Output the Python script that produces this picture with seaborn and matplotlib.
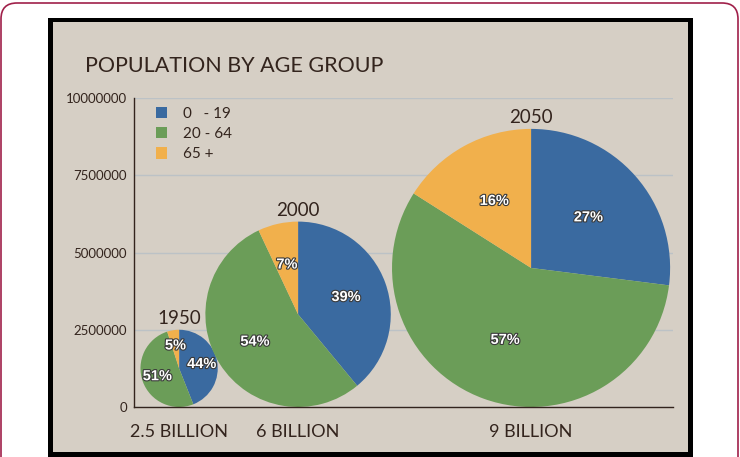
import matplotlib
matplotlib.use('Agg')
from matplotlib import pyplot as plt
from matplotlib.patches import Rectangle, FancyBboxPatch, Patch
import matplotlib.patheffects as pe
import seaborn as sns

# data
years = ['1950', '2000', '2050']
population_billion = [2.5, 6, 9]
pop_labels = ['2.5 BILLION', '6 BILLION', '9 BILLION']
age_groups = ['0   - 19', '20 - 64', '65 +']
share_young = [44, 39, 27]
share_adult = [51, 54, 57]
share_old = [5, 7, 16]
y_ticks = [0, 2500000, 5000000, 7500000, 10000000]
y_tick_labels = ['0', '2500000', '5000000', '7500000', '10000000']

sns.set_theme(style='white')
plt.rcParams['font.family'] = ['Lato', 'DejaVu Sans']
colors = sns.color_palette(['#3a6aa0', '#6b9d58', '#f1b04c'])
txt = '#33241d'
beige = '#d6cfc5'

fig = plt.figure(figsize=(7.4, 4.57), dpi=100)
fig.patch.set_facecolor('white')

# outer rounded frame and black-bordered panel (pixel coords -> inches)
px = lambda v: v / 100.0
fig.patches.append(FancyBboxPatch((px(1), px(-40)), px(737), px(494),
                                  boxstyle='round,pad=0,rounding_size=0.16',
                                  transform=fig.dpi_scale_trans, facecolor='white',
                                  edgecolor='#a0204a', lw=1.2, zorder=-3))
fig.patches.append(Rectangle((px(48), px(0)), px(645), px(457 - 18),
                             transform=fig.dpi_scale_trans, facecolor='black',
                             edgecolor='none', zorder=-2))
fig.patches.append(Rectangle((px(53), px(457 - 452)), px(635), px(452 - 22),
                             transform=fig.dpi_scale_trans, facecolor=beige,
                             edgecolor='none', zorder=-1))

ax = fig.add_axes([134 / 740, 1 - 407 / 457, 539 / 740, 309 / 457])
ax.set_facecolor('none')

scale = 500000  # pie radius per billion people, in axis units
pie_x = [1.46e6, 5.31e6, 12.85e6]
pct_dist = [0.6, 0.55, 0.55]

for i, yr in enumerate(years):
    r = population_billion[i] * scale
    cx, cy = pie_x[i], r
    vals = [share_young[i], share_adult[i], share_old[i]]
    wedges, texts, autotexts = ax.pie(
        vals, colors=colors, startangle=90, counterclock=False,
        radius=r, center=(cx, cy), frame=True,
        autopct='%d%%', pctdistance=pct_dist[i],
        wedgeprops=dict(linewidth=0))
    for t in autotexts:
        t.set_color('white')
        t.set_fontweight('bold')
        t.set_fontsize(10.5)
        t.set_family(['Liberation Sans', 'DejaVu Sans'])
        t.set_path_effects([pe.withStroke(linewidth=1.6, foreground='#3a3a3a')])
    ax.annotate(yr, (cx, cy + r), xytext=(0, 4), textcoords='offset points',
                ha='center', va='baseline', fontsize=13.5, color=txt)

ax.set_xlim(0, 10000000 * 539 / 309)
ax.set_ylim(0, 10000000)
ax.set_aspect('equal', adjustable='box')

ax.set_yticks(y_ticks)
ax.set_yticklabels(y_tick_labels, fontsize=9.5, color=txt)
ax.set_xticks(pie_x)
ax.set_xticklabels(pop_labels, fontsize=13, color=txt)
ax.tick_params(axis='both', length=0)
ax.tick_params(axis='y', pad=5)
ax.tick_params(axis='x', pad=12)

ax.grid(axis='y', color='#bcc2c6', lw=1)
ax.set_axisbelow(True)
for s in ['top', 'right']:
    ax.spines[s].set_visible(False)
for s in ['left', 'bottom']:
    ax.spines[s].set_color(txt)
    ax.spines[s].set_linewidth(1)

handles = [Patch(facecolor=c, edgecolor='none') for c in colors]
leg = ax.legend(handles, age_groups, loc='upper left', bbox_to_anchor=(0.015, 1.015),
                frameon=False, fontsize=11, labelcolor=txt,
                handlelength=0.75, handleheight=0.75, labelspacing=0.4, handletextpad=1.0)

fig.text(85 / 740, 1 - 72 / 457, 'POPULATION BY AGE GROUP', fontsize=15.5,
         color=txt, ha='left', va='baseline')

fig.savefig('out.png', dpi=100)
